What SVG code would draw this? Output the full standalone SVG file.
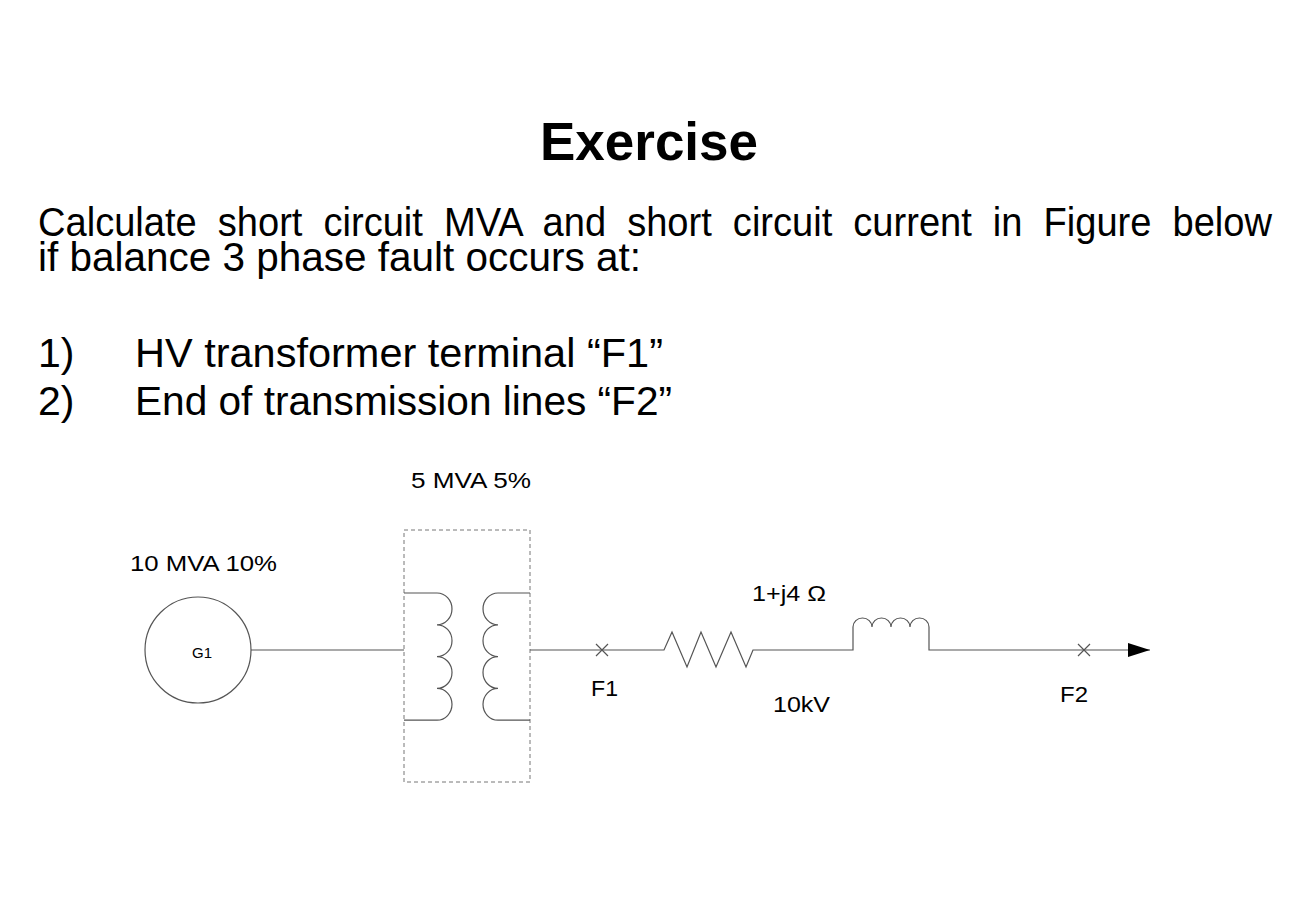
<svg xmlns="http://www.w3.org/2000/svg" width="1295" height="906" viewBox="0 0 1295 906">
<style>
text{font-family:"Liberation Sans",Arial,sans-serif;fill:#000}
.w{fill:none;stroke:#555;stroke-width:1.2}
.lbl{font-size:22px}
</style>
<defs><marker id="ar" markerWidth="22" markerHeight="14" refX="22" refY="7" orient="auto" markerUnits="userSpaceOnUse"><path d="M0,0 L22,7 L0,14Z" fill="#000"/></marker></defs>
<rect width="1295" height="906" fill="#fff"/>
<text x="649" y="160" font-size="53" font-weight="bold" text-anchor="middle">Exercise</text>
<text x="38" y="236" font-size="40" word-spacing="11" textLength="1234" lengthAdjust="spacingAndGlyphs">Calculate short circuit MVA and short circuit current in Figure below</text>
<text x="38" y="271" font-size="40" textLength="603" lengthAdjust="spacingAndGlyphs">if balance 3 phase fault occurs at:</text>
<text x="38" y="367" font-size="41">1)</text><text x="135" y="367" font-size="41" textLength="528" lengthAdjust="spacingAndGlyphs">HV transformer terminal “F1”</text>
<text x="38" y="415" font-size="41">2)</text><text x="135" y="415" font-size="41" textLength="537" lengthAdjust="spacingAndGlyphs">End of transmission lines “F2”</text>
<g id="gen"><circle cx="198" cy="650" r="53" class="w"/><text x="192" y="658" font-size="14" textLength="20" lengthAdjust="spacingAndGlyphs">G1</text>
<text x="130" y="571" class="lbl" textLength="147" lengthAdjust="spacingAndGlyphs">10 MVA 10%</text></g>
<g id="transformer">
<rect x="404" y="530" width="126" height="252" fill="none" stroke="#777" stroke-dasharray="4,3"/>
<path class="w" d="M404,593 H437 a15,15.9 0 0 1 0,31.8 a15,15.9 0 0 1 0,31.8 a15,15.9 0 0 1 0,31.8 a15,15.9 0 0 1 0,31.8 H404"/>
<path class="w" d="M530,593 H498 a15,15.9 0 0 0 0,31.8 a15,15.9 0 0 0 0,31.8 a15,15.9 0 0 0 0,31.8 a15,15.9 0 0 0 0,31.8 H530"/>
<text x="411" y="488" class="lbl" textLength="120" lengthAdjust="spacingAndGlyphs">5 MVA 5%</text></g>
<g id="line"><text x="752" y="601" class="lbl" textLength="74" lengthAdjust="spacingAndGlyphs">1+j4 Ω</text><text x="773" y="712" class="lbl" textLength="57" lengthAdjust="spacingAndGlyphs">10kV</text></g>
<g id="F1"><path class="w" d="M596,644 l12,12 M608,644 l-12,12"/><text x="591" y="696" class="lbl" textLength="27" lengthAdjust="spacingAndGlyphs">F1</text></g>
<g id="F2"><path class="w" d="M1078,644 l12,12 M1090,644 l-12,12"/><text x="1060" y="702" class="lbl" textLength="28" lengthAdjust="spacingAndGlyphs">F2</text></g>
<g id="connectors">
<path class="w" d="M251,650 H404"/>
<path class="w" d="M530,650 H664 L672,632 L687,667 L701,632 L716,667 L731,632 L746,667 L753,650 H853 V627 a9.5,9 0 0 1 19,0 a9.5,9 0 0 1 19,0 a9.5,9 0 0 1 19,0 a9.5,9 0 0 1 19,0 V650 H1150" marker-end="url(#ar)"/>
</g>
</svg>
